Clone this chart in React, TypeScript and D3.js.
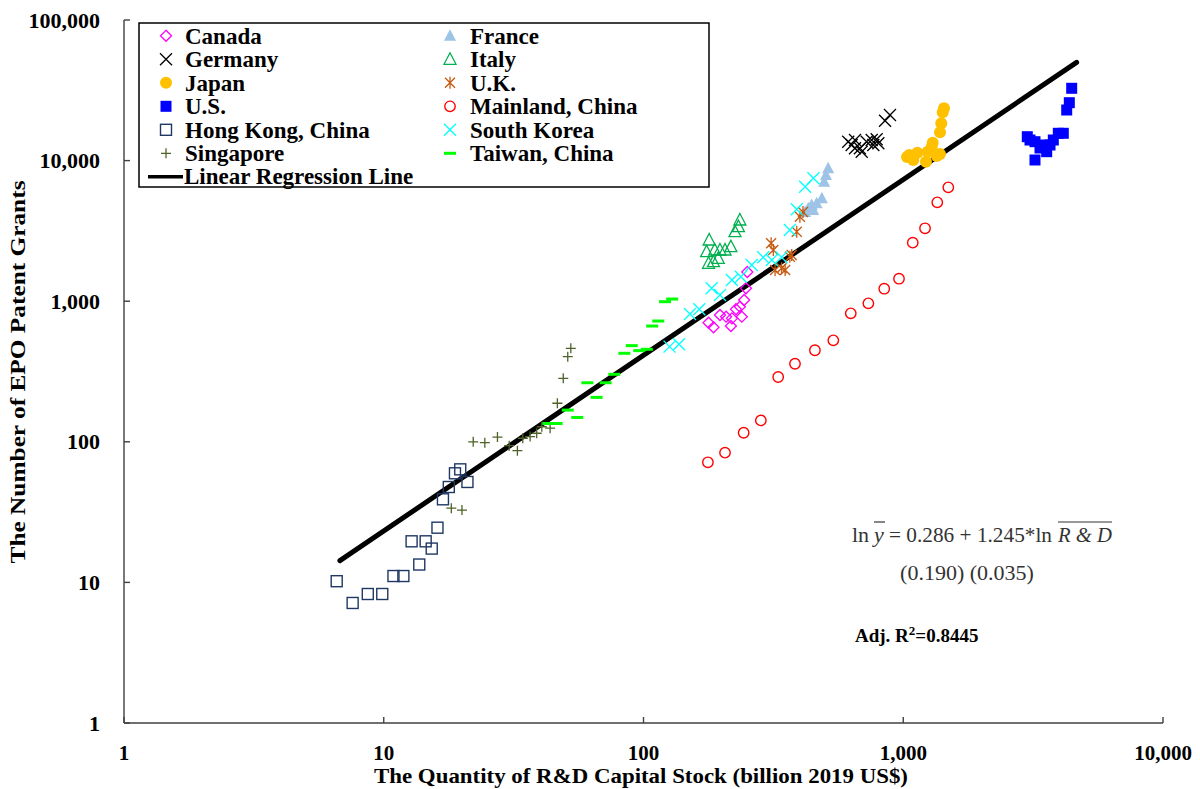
import * as d3 from "d3";

// R&D capital stock (billion 2019 US$) vs EPO patent grants
const CANADA: [number, number][] = [[178, 703], [186, 652], [197, 798], [208, 776], [217, 666], [219, 755], [227, 876], [235, 914], [239, 776], [244, 1020], [248, 1235], [251, 1614]];
const GERMANY: [number, number][] = [[614, 13630], [633, 12910], [652, 14010], [652, 12230], [681, 12230], [692, 11570], [723, 13630], [756, 14010], [767, 12910], [790, 14170], [802, 13270], [851, 19220], [889, 21100]];
const JAPAN: [number, number][] = [[1034, 10610], [1055, 10960], [1093, 10100], [1133, 11380], [1223, 9822], [1242, 11570], [1287, 12560], [1298, 13400], [1345, 10790], [1385, 11140], [1385, 15900], [1401, 18420], [1419, 22060], [1435, 23550]];
const US: [number, number][] = [[3003, 14790], [3076, 14010], [3215, 13630], [3361, 12290], [3461, 12910], [3566, 11570], [3215, 10100], [3673, 12910], [3782, 14010], [3954, 15640], [4132, 15640], [4259, 22900], [4358, 25810], [4451, 32680]];
const HONG_KONG: [number, number][] = [[6.59, 10.2], [7.59, 7.14], [8.68, 8.27], [9.87, 8.27], [10.9, 11.1], [11.9, 11.1], [13.7, 13.4], [12.8, 19.6], [14.5, 19.6], [15.3, 17.4], [16.1, 24.5], [16.9, 39.0], [17.8, 47.7], [18.8, 59.7], [19.7, 63.7], [21.0, 51.8]];
const SINGAPORE: [number, number][] = [[18.2, 33.7], [20.0, 32.7], [22.1, 100], [24.5, 98.5], [27.4, 108], [30.4, 93.8], [32.7, 86.5], [34.3, 106], [36.6, 109], [38.8, 115], [40.6, 128], [43.7, 125], [46.6, 188], [49.1, 283], [51.1, 403], [52.5, 462]];
const FRANCE: [number, number][] = [[419, 4309], [431, 4578], [444, 4833], [450, 4453], [464, 4970], [486, 5395], [496, 7078], [504, 7902], [514, 8814]];
const ITALY: [number, number][] = [[179, 2725], [175, 2250], [178, 1860], [186, 1910], [188, 2313], [194, 2019], [197, 2313], [206, 2313], [217, 2441], [225, 3121], [232, 3388], [235, 3780]];
const UK: [number, number][] = [[310, 2581], [316, 2313], [321, 1667], [340, 1714], [351, 1667], [366, 2073], [372, 2131], [389, 3121], [400, 3990], [411, 4309]];
const MAINLAND: [number, number][] = [[177, 71.5], [206, 83.7], [243, 116], [283, 142], [330, 289], [383, 359], [457, 448], [538, 527], [628, 820], [734, 966], [845, 1227], [963, 1445], [1088, 2607], [1213, 3300], [1352, 5050], [1491, 6457]];
const KOREA: [number, number][] = [[126, 475], [137, 494], [151, 811], [164, 876], [183, 1235], [197, 1107], [219, 1415], [237, 1494], [261, 1809], [289, 2052], [312, 1963], [340, 2052], [366, 3209], [389, 4504], [419, 6523], [451, 7483]];
const TAIWAN: [number, number][] = [[43.0, 135], [46.3, 135], [51.1, 168], [55.6, 149], [60.8, 263], [66.0, 207], [71.5, 263], [77.2, 302], [84.4, 426], [90.1, 483], [96.3, 445], [103, 455], [108, 666], [114, 723], [121, 992], [129, 1036]];

// regression line end points
const REG_X = [6.78, 4650];
const REG_Y = [14.3, 50000];

const X_TICKS = [1, 10, 100, 1000, 10000];
const Y_TICKS = [1, 10, 100, 1000, 10000, 100000];

const SERIES = [
  { name: "Canada", data: CANADA, shape: "diamond", color: "#ff00ff", col: 0 },
  { name: "Germany", data: GERMANY, shape: "x", color: "#000000", col: 0 },
  { name: "Japan", data: JAPAN, shape: "dot", color: "#ffc000", col: 0 },
  { name: "U.S.", data: US, shape: "block", color: "#0000ff", col: 0 },
  { name: "Hong Kong, China", data: HONG_KONG, shape: "square", color: "#203864", col: 0 },
  { name: "Singapore", data: SINGAPORE, shape: "plus", color: "#4f6228", col: 0 },
  { name: "France", data: FRANCE, shape: "triFill", color: "#9dc3e6", col: 1 },
  { name: "Italy", data: ITALY, shape: "tri", color: "#00b050", col: 1 },
  { name: "U.K.", data: UK, shape: "star", color: "#c55a11", col: 1 },
  { name: "Mainland, China", data: MAINLAND, shape: "ring", color: "#ff0000", col: 1 },
  { name: "South Korea", data: KOREA, shape: "x", color: "#00ffff", col: 1 },
  { name: "Taiwan, China", data: TAIWAN, shape: "dash", color: "#00ff00", col: 1 },
];

const FONT = "'Liberation Serif', 'Times New Roman', serif";

function Marker({ shape, color, x, y }: { shape: string; color: string; x: number; y: number }) {
  const s = 5.5;
  switch (shape) {
    case "diamond":
      return <path d={`M${x},${y - s}L${x + s},${y}L${x},${y + s}L${x - s},${y}Z`} fill="none" stroke={color} strokeWidth={1.3} />;
    case "x":
      return <path d={`M${x - 6},${y - 6}L${x + 6},${y + 6}M${x - 6},${y + 6}L${x + 6},${y - 6}`} stroke={color} strokeWidth={1.3} />;
    case "dot":
      return <circle cx={x} cy={y} r={6} fill={color} />;
    case "block":
      return <rect x={x - s} y={y - s} width={2 * s} height={2 * s} fill={color} />;
    case "square":
      return <rect x={x - s} y={y - s} width={2 * s} height={2 * s} fill="none" stroke={color} strokeWidth={1.4} />;
    case "plus":
      return <path d={`M${x - 5},${y}L${x + 5},${y}M${x},${y - 5}L${x},${y + 5}`} stroke={color} strokeWidth={1.3} />;
    case "triFill":
      return <path d={`M${x},${y - 6.5}L${x + 6},${y + 5}L${x - 6},${y + 5}Z`} fill={color} />;
    case "tri":
      return <path d={`M${x},${y - 6.5}L${x + 6},${y + 5}L${x - 6},${y + 5}Z`} fill="none" stroke={color} strokeWidth={1.3} />;
    case "star":
      return <path d={`M${x - 5},${y - 5}L${x + 5},${y + 5}M${x - 5},${y + 5}L${x + 5},${y - 5}M${x},${y - 6}L${x},${y + 6}`} stroke={color} strokeWidth={1.3} />;
    case "ring":
      return <circle cx={x} cy={y} r={5.2} fill="none" stroke={color} strokeWidth={1.4} />;
    case "dash":
      return <path d={`M${x - 6},${y}L${x + 6},${y}`} stroke={color} strokeWidth={3} />;
    default:
      return null;
  }
}

export default function App() {
  const width = 1200;
  const height = 789;
  const x = d3.scaleLog().domain([1, 10000]).range([124, 1163]);
  const y = d3.scaleLog().domain([1, 100000]).range([723, 20]);
  const fmt = d3.format(",");
  const line = d3.line<number>()
    .x((_, i) => x(REG_X[i]))
    .y((_, i) => y(REG_Y[i]));

  const legendRow = (i: number) => 35.8 + i * 23.5;

  return (
    <svg width={width} height={height} style={{ position: "absolute", left: 0, top: 0, background: "#fff" }} fontFamily={FONT}>
      {/* axes */}
      <g stroke="#404040" strokeWidth={1.4}>
        <line x1={x(1)} x2={x(1)} y1={y(100000)} y2={y(1)} />
        <line x1={x(1)} x2={x(10000)} y1={y(1)} y2={y(1)} />
        {Y_TICKS.map(t => <line key={t} x1={x(1)} x2={x(1) + 6} y1={y(t)} y2={y(t)} />)}
        {X_TICKS.map(t => <line key={t} x1={x(t)} x2={x(t)} y1={y(1)} y2={y(1) - 6} />)}
      </g>
      <g fontWeight="bold" fontSize={22} fill="#000">
        {Y_TICKS.map(t => (
          <text key={t} x={100} y={y(t) + 7.5} textAnchor="end">{fmt(t)}</text>
        ))}
        {X_TICKS.map(t => (
          <text key={t} x={x(t)} y={760} textAnchor="middle" fontSize={21}>{fmt(t)}</text>
        ))}
      </g>
      <text x={641} y={783} textAnchor="middle" fontWeight="bold" fontSize={22} textLength={534} lengthAdjust="spacingAndGlyphs">
        The Quantity of R&amp;D Capital Stock (billion 2019 US$)
      </text>
      <text transform="translate(25,372) rotate(-90)" textAnchor="middle" fontWeight="bold" fontSize={22} textLength={383} lengthAdjust="spacingAndGlyphs">
        The Number of EPO Patent Grants
      </text>

      {/* regression line */}
      <path d={line(REG_X) || ""} stroke="#000" strokeWidth={5} fill="none" strokeLinecap="round" />

      {/* points */}
      {SERIES.map(s => (
        <g key={s.name}>
          {s.data.map((d, i) => (
            <Marker key={i} shape={s.shape} color={s.color} x={x(d[0])} y={y(d[1])} />
          ))}
        </g>
      ))}

      {/* legend */}
      <rect x={139} y={23} width={570} height={164} fill="#fff" stroke="#000" strokeWidth={1.5} />
      {SERIES.map(s => {
        const idx = SERIES.filter(o => o.col === s.col).indexOf(s);
        const cy = legendRow(idx);
        const mx = s.col === 0 ? 166 : 450;
        const tx = s.col === 0 ? 185 : 470;
        return (
          <g key={s.name}>
            <Marker shape={s.shape} color={s.color} x={mx} y={cy} />
            <text x={tx} y={cy + 7.7} fontWeight="bold" fontSize={23}>{s.name}</text>
          </g>
        );
      })}
      <line x1={148} x2={183} y1={legendRow(6)} y2={legendRow(6)} stroke="#000" strokeWidth={3.5} />
      <text x={184} y={legendRow(6) + 7.5} fontWeight="bold" fontSize={23}>Linear Regression Line</text>

      {/* equation */}
      <g fill="#333" fontSize={22}>
        <text x={852} y={542}>ln</text>
        <text x={874} y={542} fontStyle="italic">y</text>
        <line x1={874} x2={885} y1={522} y2={522} stroke="#333" strokeWidth={1.2} />
        <text x={889} y={542} textLength={163} lengthAdjust="spacingAndGlyphs">= 0.286 + 1.245*ln</text>
        <text x={1058} y={542} fontStyle="italic" textLength={54} lengthAdjust="spacingAndGlyphs">R &amp; D</text>
        <line x1={1058} x2={1112} y1={522} y2={522} stroke="#333" strokeWidth={1.2} />
        <text x={967} y={580} textAnchor="middle">(0.190) (0.035)</text>
      </g>
      <text x={855} y={642} fontWeight="bold" fontSize={19}>
        Adj.  R<tspan dy={-7} fontSize={13}>2</tspan><tspan dy={7}>=0.8445</tspan>
      </text>
    </svg>
  );
}
